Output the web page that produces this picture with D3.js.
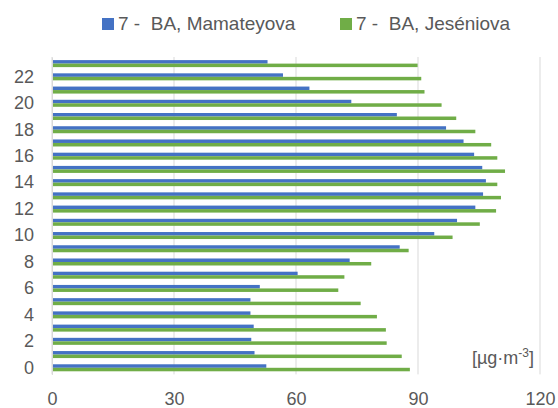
<!DOCTYPE html>
<html>

<head>
   <title>Hodinové koncentrácie</title>
   <script src="https://d3js.org/d3.v7.min.js"></script>
   <style>
      body { margin: 0; background: #fff; }
      text { font-family: "Liberation Sans", Arial, sans-serif; fill: #595959; }
   </style>
</head>

<body>
   <script>
      var hours = d3.range(0, 24)
      var seriesNames = ["7 -  BA, Mamateyova", "7 -  BA, Jeséniova"]
      var mamateyova = [52.7, 49.8, 49.0, 49.6, 48.8, 48.8, 51.1, 60.4, 73.2, 85.5, 94.0, 99.6,
         104.1, 106.0, 106.7, 105.8, 103.8, 101.2, 96.9, 84.8, 73.6, 63.3, 56.8, 53.0]
      var jeseniova = [88.0, 86.0, 82.3, 82.1, 79.9, 75.9, 70.4, 71.9, 78.5, 87.7, 98.5, 105.2,
         109.2, 110.4, 109.5, 111.4, 109.5, 108.0, 104.1, 99.4, 95.8, 91.6, 90.8, 89.9]
      var xTicks = [0, 30, 60, 90, 120]
      var yTicks = [0, 2, 4, 6, 8, 10, 12, 14, 16, 18, 20, 22]
      var colors = ["#4472C4", "#70AD47"]

      var data = hours.map((h, i) => ({ h, values: [mamateyova[i], jeseniova[i]] }))

      var W = 558, H = 408
      var plotLeft = 52, plotRight = 540, plotTop = 57, plotBottom = 374.4

      var svg = d3.select("body").append("svg").attr("width", W).attr("height", H)

      var x = d3.scaleLinear().domain([0, 120]).range([plotLeft, plotRight])
      var y = d3.scaleBand().domain(hours.slice().reverse()).range([plotTop, plotBottom]).paddingInner(0.47).paddingOuter(0.235)
      var ySub = d3.scaleBand().domain([0, 1]).range([0, y.bandwidth()])

      // grid
      svg.append("g").selectAll("line").data(xTicks).enter().append("line")
         .attr("x1", d => x(d)).attr("x2", d => x(d))
         .attr("y1", plotTop).attr("y2", plotBottom)
         .attr("stroke", "#d9d9d9").attr("stroke-width", 1)

      // bars
      var groups = svg.append("g").selectAll("g").data(data).enter().append("g")
         .attr("transform", d => `translate(0, ${y(d.h)})`)
      groups.selectAll("rect").data(d => d.values).enter().append("rect")
         .attr("x", x(0))
         .attr("y", (d, i) => ySub(i))
         .attr("width", d => x(d) - x(0))
         .attr("height", ySub.bandwidth())
         .attr("fill", (d, i) => colors[i])

      // axes
      var axisX = d3.axisBottom(x).tickValues(xTicks).tickSize(0)
      var gx = svg.append("g").attr("transform", `translate(0, ${plotBottom})`).call(axisX)
      gx.select(".domain").remove()
      gx.selectAll("text").attr("font-size", 18).attr("fill", "#595959").attr("y", 31).attr("dy", null)

      var axisY = d3.axisLeft(y).tickValues(yTicks).tickSize(0).tickPadding(18)
      var gy = svg.append("g").attr("transform", `translate(${plotLeft}, 0)`).call(axisY)
      gy.select(".domain").attr("stroke", "#d9d9d9")
      gy.selectAll("text").attr("font-size", 18).attr("fill", "#595959")
      svg.selectAll(".tick text").style("font-family", '"Liberation Sans", Arial, sans-serif')

      // unit label
      var unit = svg.append("text").attr("x", 534).attr("y", 364).attr("text-anchor", "end").attr("font-size", 18)
      unit.append("tspan").text("[µg·m")
      unit.append("tspan").attr("font-size", 12).attr("dy", -7).text("-3")
      unit.append("tspan").attr("dy", 7).text("]")

      // legend
      var legendX = [102, 340]
      var legend = svg.append("g").selectAll("g").data(seriesNames).enter().append("g")
         .attr("transform", (d, i) => `translate(${legendX[i]}, 18)`)
      legend.append("rect").attr("width", 12).attr("height", 12).attr("fill", (d, i) => colors[i])
      legend.append("text").attr("x", 16).attr("y", 12).attr("font-size", 19)
         .style("white-space", "pre").text(d => d)
   </script>
</body>

</html>
